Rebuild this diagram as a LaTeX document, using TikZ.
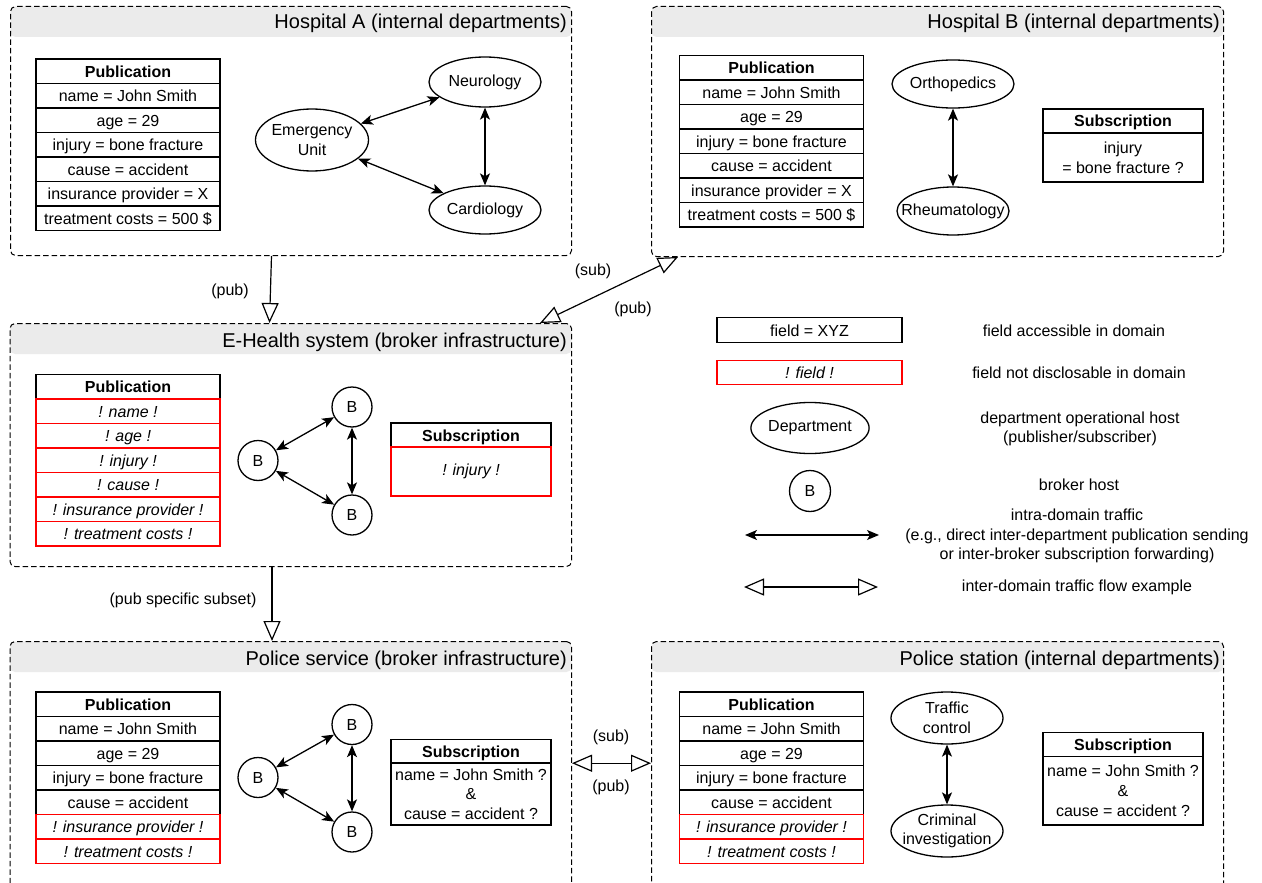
\documentclass[tikz,border=0pt]{standalone}
\usepackage{fontspec}
\setmainfont{Liberation Sans}
\usetikzlibrary{arrows.meta,shapes.geometric}
\definecolor{hdr}{HTML}{EBEBEB}
\newcommand\bodyfont{\fontsize{16}{19.7}\selectfont}
\newcommand\ttlfont{\fontsize{20}{24}\selectfont}
\newcommand\zw[1]{\makebox[0pt]{#1}}
\begin{document}
\begin{tikzpicture}[x=1pt,y=-1pt,
  container/.style={draw, dash pattern=on 5.5pt off 3pt, rounded corners=5pt, line width=1pt, anchor=north west, inner sep=0,
    path picture={\fill[hdr] (path picture bounding box.north west) rectangle ([yshift=-30.5pt]path picture bounding box.north east);}},
  ttl/.style={font=\ttlfont, anchor=base east, inner sep=0},
  cell/.style={draw, line width=1.3pt, minimum width=184pt, minimum height=24.5pt, inner sep=0, text height=12pt, text depth=0pt, font=\bodyfont},
  hcell/.style={cell, font=\bodyfont\bfseries},
  rcell/.style={cell, draw=red, font=\bodyfont\itshape},
  shead/.style={hcell, minimum width=160pt, minimum height=24pt},
  sbody/.style={draw, line width=1.3pt, minimum width=160pt, inner sep=0, font=\bodyfont, align=center},
  ell/.style={ellipse, draw, line width=1.3pt, inner sep=0, font=\bodyfont, align=center, minimum width=112pt, minimum height=50pt},
  brk/.style={circle, draw, line width=1.3pt, inner sep=0, minimum size=40pt, font=\bodyfont},
  lbl/.style={font=\bodyfont, inner sep=0},
  desc/.style={font=\bodyfont, align=center, inner sep=0},
  intra/.style={line width=1.3pt, >={Stealth[length=12pt,width=10pt,inset=3pt]}, <->},
  inter/.style={line width=1.2pt, >={Triangle[length=20pt,width=17pt,fill=white]}}
]
\useasboundingbox (0,0) rectangle (1262,883);

% ---------------- containers ----------------
\node[container, minimum width=561pt, minimum height=249pt] (hospA) at (10,6) {};
\node[ttl] (hospAt) at (567,29) {Hospital A (internal departments)};
\node[container, minimum width=572pt, minimum height=250pt] (hospB) at (651,6) {};
\node[ttl] (hospBt) at (1220,29) {Hospital B (internal departments)};
\node[container, minimum width=561.5pt, minimum height=243pt] (eh) at (9.5,323) {};
\node[ttl] (eht) at (567,347) {E-Health system (broker infrastructure)};
\node[container, minimum width=561.5pt, minimum height=249pt] (ps) at (9.5,641) {};
\node[ttl] (pst) at (567,665) {Police service (broker infrastructure)};
\node[container, minimum width=572pt, minimum height=249pt] (pst2) at (651,641) {};
\node[ttl] (pstt) at (1220,665) {Police station (internal departments)};

% ---------------- Hospital A ----------------
\node[hcell] (a0) at (128,71.25) {Publication};
\node[cell] (a1) at (128,95.75) {name = John Smith};
\node[cell] (a2) at (128,120.25) {age = 29};
\node[cell] (a3) at (128,144.75) {injury = bone fracture};
\node[cell] (a4) at (128,169.25) {cause = accident};
\node[cell] (a5) at (128,193.75) {insurance provider = X};
\node[cell] (a6) at (128,218.25) {treatment costs = 500 \$};
\node[ell] (neuro) at (485,82) {Neurology};
\node[ell, minimum width=113pt, minimum height=62pt] (emerg) at (312,140) {\zw{Emergency}\\\zw{Unit}};
\node[ell, minimum height=48pt] (cardio) at (485,210) {Cardiology};
\draw[intra] (emerg) -- (neuro);
\draw[intra] (emerg) -- (cardio);
\draw[intra] (neuro) -- (cardio);

% ---------------- Hospital B ----------------
\node[hcell] (b0) at (771.5,67.75) {Publication};
\node[cell] (b1) at (771.5,92.25) {name = John Smith};
\node[cell] (b2) at (771.5,116.75) {age = 29};
\node[cell] (b3) at (771.5,141.25) {injury = bone fracture};
\node[cell] (b4) at (771.5,165.75) {cause = accident};
\node[cell] (b5) at (771.5,190.25) {insurance provider = X};
\node[cell] (b6) at (771.5,214.75) {treatment costs = 500 \$};
\node[ell, minimum height=48pt] (ortho) at (953,84) {Orthopedics};
\node[ell, minimum height=48pt] (rheum) at (953,211) {\zw{Rheumatology}};
\draw[intra] (ortho) -- (rheum);
\node[shead] (bs0) at (1123,121) {Subscription};
\node[sbody, minimum height=49pt] (bs1) at (1123,157.5) {injury\\= bone fracture ?};

% ---------------- E-Health ----------------
\node[hcell] (e0) at (128,386.75) {Publication};
\node[rcell] (e1) at (128,411.25) {! name !};
\node[rcell] (e2) at (128,435.75) {! age !};
\node[rcell] (e3) at (128,460.25) {! injury !};
\node[rcell] (e4) at (128,484.75) {! cause !};
\node[rcell] (e5) at (128,509.25) {! insurance provider !};
\node[rcell] (e6) at (128,533.75) {! treatment costs !};
\node[brk] (eb1) at (352,407) {B};
\node[brk] (eb2) at (258,460.5) {B};
\node[brk] (eb3) at (352,515) {B};
\draw[intra] (eb2) -- (eb1);
\draw[intra] (eb2) -- (eb3);
\draw[intra] (eb1) -- (eb3);
\node[shead] (es0) at (471,435) {Subscription};
\node[sbody, draw=red, font=\bodyfont\itshape, minimum height=49pt] (es1) at (471,471.5) {! injury !};

% ---------------- Police service ----------------
\node[hcell] (p0) at (128,704.25) {Publication};
\node[cell] (p1) at (128,728.75) {name = John Smith};
\node[cell] (p2) at (128,753.25) {age = 29};
\node[cell] (p3) at (128,777.75) {injury = bone fracture};
\node[cell] (p4) at (128,802.25) {cause = accident};
\node[rcell] (p5) at (128,826.75) {! insurance provider !};
\node[rcell] (p6) at (128,851.25) {! treatment costs !};
\node[brk] (pb1) at (352,724.5) {B};
\node[brk] (pb2) at (258,777.5) {B};
\node[brk] (pb3) at (352,832) {B};
\draw[intra] (pb2) -- (pb1);
\draw[intra] (pb2) -- (pb3);
\draw[intra] (pb1) -- (pb3);
\node[shead] (ps0) at (471,751.25) {Subscription};
\node[sbody, minimum height=62pt] (ps1) at (471,794) {name = John Smith ?\\\&\\cause = accident ?};

% ---------------- Police station ----------------
\node[hcell] (s0) at (771.5,704.25) {Publication};
\node[cell] (s1) at (771.5,728.75) {name = John Smith};
\node[cell] (s2) at (771.5,753.25) {age = 29};
\node[cell] (s3) at (771.5,777.75) {injury = bone fracture};
\node[cell] (s4) at (771.5,802.25) {cause = accident};
\node[rcell] (s5) at (771.5,826.75) {! insurance provider !};
\node[rcell] (s6) at (771.5,851.25) {! treatment costs !};
\node[ell, minimum height=52pt] (traffic) at (947,718) {Traffic\\control};
\node[ell, minimum height=52pt] (crim) at (947,831) {\zw{Criminal}\\\zw{investigation}};
\draw[intra] (traffic) -- (crim);
\node[shead] (ss0) at (1123,744.5) {Subscription};
\node[sbody, minimum height=68.5pt] (ss1) at (1123,790.75) {name = John Smith ?\\\&\\cause = accident ?};

% ---------------- inter-domain connectors ----------------
\draw[inter, ->] ([xshift=-19.5pt]hospA.south) -- ([xshift=-21.25pt]eh.north);
\node[lbl] (l1) at (230,291) {(pub)};
\draw[inter, <->] ([xshift=27pt]hospB.south west) -- ([xshift=-32pt]eh.north east);
\node[lbl] (l2) at (593,271) {(sub)};
\node[lbl] (l3) at (633,309) {(pub)};
\draw[inter, ->] ([xshift=-18.75pt]eh.south) -- ([xshift=-18.75pt]ps.north);
\node[lbl] (l4) at (183,600) {(pub specific subset)};
\draw[inter, <->] ([yshift=2.8pt]ps.east) -- ([yshift=2.8pt]pst2.west);
\node[lbl] (l5) at (611,737) {(sub)};
\node[lbl] (l6) at (611,787) {(pub)};

% ---------------- legend ----------------
\node[cell, minimum width=185pt] (lg1) at (809.5,330) {field = XYZ};
\node[desc] (lg1d) at (1074,331) {field accessible in domain};
\node[rcell, minimum width=185pt] (lg2) at (809.5,372.5) {! field !};
\node[desc] (lg2d) at (1079,373) {field not disclosable in domain};
\node[ell, minimum width=113pt, minimum height=51pt] (lg3) at (810,428) {Department};
\node[desc] (lg3d) at (1080,429) {department operational host\\(publisher/subscriber)};
\node[brk, minimum size=41pt] (lg4) at (810,491) {B};
\node[desc] (lg4d) at (1079,484.5) {broker host};
\coordinate (i1) at (745,535);
\coordinate (i2) at (879,535);
\draw[intra] (i1) -- (i2);
\node[desc] (lg5d) at (1077,536) {intra-domain traffic\\(e.g., direct inter-department publication sending\\or inter-broker subscription forwarding)};
\coordinate (j1) at (744,587);
\coordinate (j2) at (878,587);
\draw[inter, <->] (j1) -- (j2);
\node[desc] (lg6d) at (1077,587.5) {inter-domain traffic flow example};
\end{tikzpicture}
\end{document}
